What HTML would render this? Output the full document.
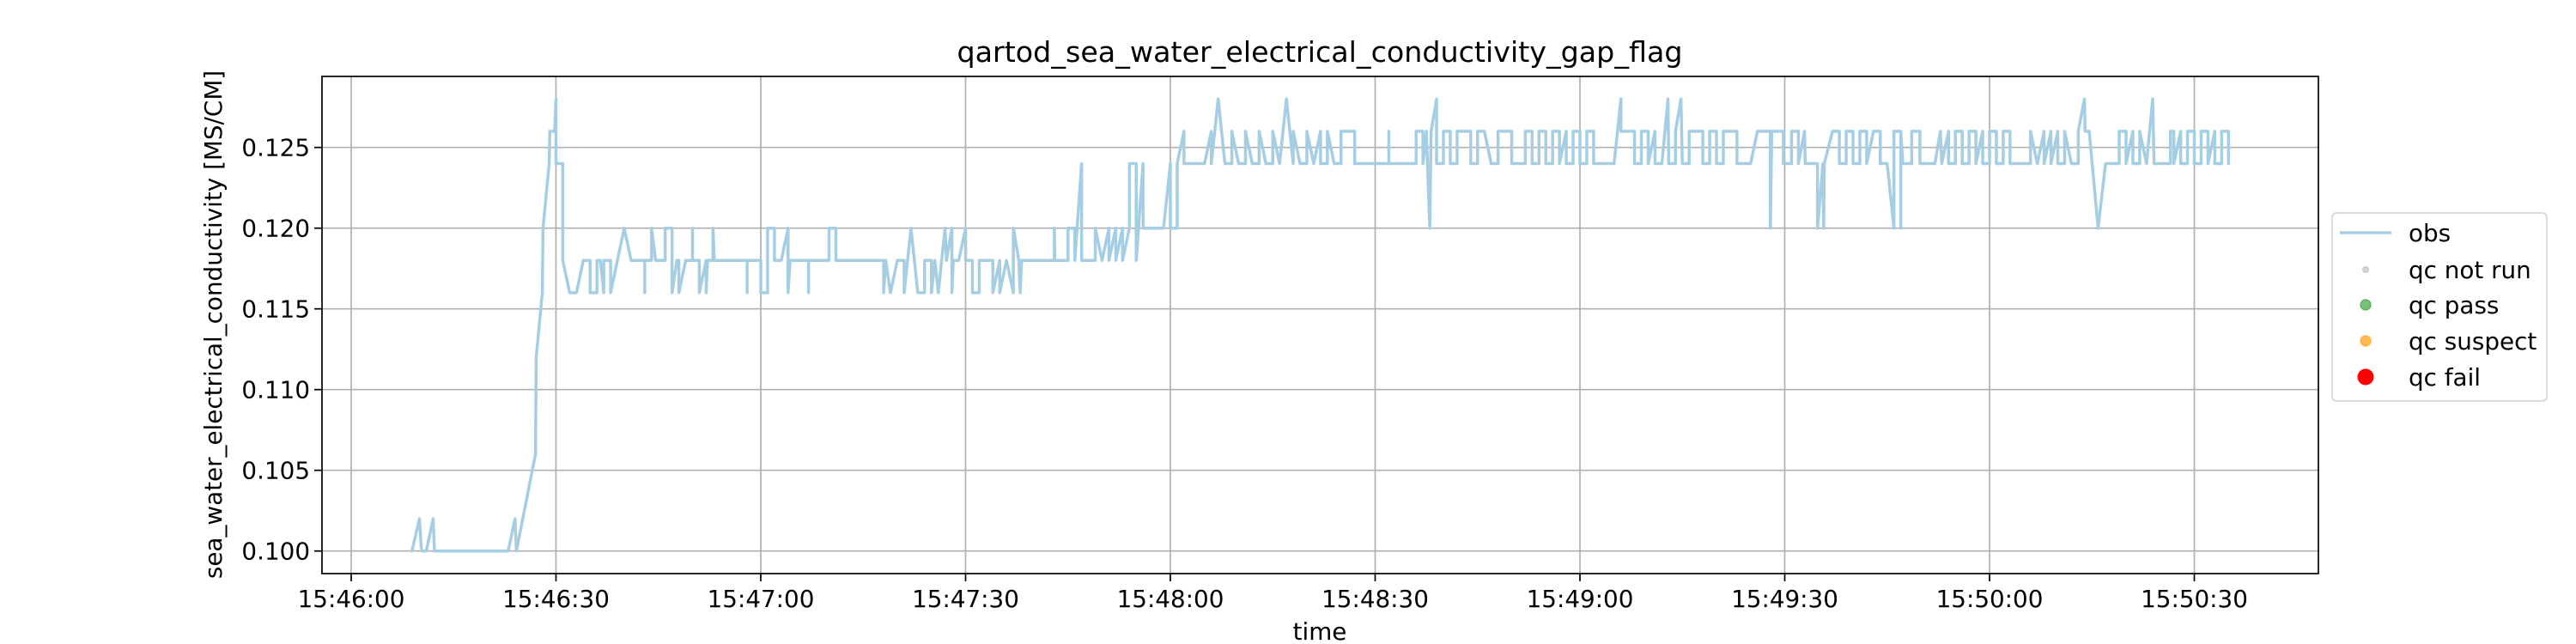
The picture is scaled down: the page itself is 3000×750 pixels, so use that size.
<!DOCTYPE html>
<html><head><meta charset="utf-8"><style>
html,body{margin:0;padding:0;background:#fff;}
svg{display:block;font-family:"DejaVu Sans","Liberation Sans",sans-serif;}
</style></head><body>
<svg id="chart" width="3000" height="750" viewBox="0 0 3000 750" xmlns="http://www.w3.org/2000/svg">
<rect x="0" y="0" width="3000" height="750" fill="#fff"/>
<text x="1537" y="72" font-size="33" text-anchor="middle" textLength="845" lengthAdjust="spacingAndGlyphs">qartod_sea_water_electrical_conductivity_gap_flag</text>
<g id="grid"></g>
<g id="series"></g>
<rect x="375" y="89" width="2325" height="579" fill="none" stroke="#000" stroke-width="1.7"/>
<g id="xaxis"></g>
<g id="yaxis"></g>
<text x="1537" y="745" font-size="27.8" text-anchor="middle">time</text>
<text transform="translate(258,378) rotate(-90)" font-size="27.8" text-anchor="middle">sea_water_electrical_conductivity [MS/CM]</text>
<g>
<rect x="2716" y="248" width="250" height="219" rx="5" fill="#fff" stroke="#d6d6d6" stroke-width="1.7"/>
<g><line x1="2725" y1="271" x2="2785" y2="271" stroke="#a6cee3" stroke-width="3.5"/><text x="2805" y="281" font-size="27.8">obs</text></g>
<g><circle cx="2755" cy="314" r="3.5" fill="#d3d3d3" stroke="#c8c8c8" stroke-width="1"/><text x="2805" y="324" font-size="27.8">qc not run</text></g>
<g><circle cx="2755" cy="355" r="6" fill="#5cb85c" stroke="#3a9a3a" stroke-width="1.2" opacity="0.85"/><text x="2805" y="365" font-size="27.8">qc pass</text></g>
<g><circle cx="2755" cy="397" r="6" fill="#ffb23f" stroke="#ffa726" stroke-width="1.2" opacity="0.9"/><text x="2805" y="407" font-size="27.8">qc suspect</text></g>
<g><circle cx="2755" cy="439" r="9.5" fill="#ff0000"/><text x="2805" y="449" font-size="27.8">qc fail</text></g>
</g>
</svg>
<script>
// seconds after 15:46:00
const xTickSeconds = [0, 30, 60, 90, 120, 150, 180, 210, 240, 270];
const xTickLabels = ["15:46:00","15:46:30","15:47:00","15:47:30","15:48:00","15:48:30","15:49:00","15:49:30","15:50:00","15:50:30"];
const yTickValues = [0.100, 0.105, 0.110, 0.115, 0.120, 0.125];
const yTickLabels = ["0.100","0.105","0.110","0.115","0.120","0.125"];
// [seconds after 15:46:00, value]
const obsStart = [[8.9,.100],[10,.102],[10.3,.100],[11,.100],[12,.102],[12.2,.100],[23,.100],[24,.102],[24.2,.100],[27,.106],[27.1,.112],[28,.116],[28.1,.120],[29,.124],[29.1,.126],[29.8,.126],[30,.128],[30,.124],[31,.124],[31,.118]];
const obsEarly = [[32,.116],[33,.116],[34,.118],[35,.118],[35,.116],[36,.116],[36,.118],[36.5,.118],[37,.116],[37,.118],[38,.118],[38,.116],[40,.120],[41,.118],[43,.118],[43,.116],[43,.118],[44,.118],[44,.120],[44.6,.118],[46,.118],[46,.120],[47,.120],[47,.116],[47.7,.118],[48,.118],[48,.116],[49,.118],[50,.118],[50,.120],[50,.118],[51,.118],[51,.116],[52,.118],[52,.116],[52.2,.118],[53,.118],[53,.120],[53.2,.118],[58,.118],[58,.116],[58,.118],[60,.118],[60,.116],[61,.116],[61,.120],[62,.120],[62,.118],[63,.118],[64,.120],[64,.116],[64.3,.118],[67,.118],[67,.116],[67,.118],[70,.118],[70,.120],[71,.120],[71,.118],[78,.118],[78,.116],[78.3,.118],[79,.116],[80,.118],[81,.118],[81,.116],[81.5,.118],[82,.120],[83,.116],[84,.116],[84,.118],[85,.118],[85,.116],[85.5,.118],[86,.116],[87,.120],[87.2,.118],[88,.120],[88,.116],[88.2,.118],[89,.118],[90,.120],[90,.118],[91,.118],[91,.116]];
const obsMid = [[92,.116],[92,.118],[94,.118],[94,.116],[95,.118],[95,.116],[96,.118],[97,.116],[97,.120],[97.8,.118],[98,.116],[98.2,.118],[103,.118],[103,.120],[103.1,.118],[105,.118],[105,.120],[106,.120],[106,.118],[107,.124],[107,.118],[109,.118],[109,.120],[110,.118],[111,.120],[111,.118],[112,.120],[112,.118],[113,.120],[113,.118],[114,.120],[114,.124],[115,.124],[115,.118],[116,.124],[116,.120],[119,.120],[120,.124],[120,.120],[121,.120],[121,.124],[122,.126],[122,.124],[125,.124],[126,.126],[126,.124],[127,.128],[128,.124],[129,.124],[129,.126],[130,.124],[131,.124],[131,.126],[132,.124],[133,.124],[133,.126],[134,.124],[135,.124],[135,.126],[136,.124],[137,.128],[138,.124],[138,.126],[139,.124],[140,.124],[140,.126],[141,.124],[142,.126],[142,.124],[143,.124],[143,.126],[144,.124],[145,.124],[145,.126],[147,.126],[147,.124],[152,.124],[152,.126],[152,.124]];
const obsLate = [[156,.124],[156,.126],[157,.126],[157,.124],[157.5,.126],[158,.120],[158.2,.126],[159,.128],[159,.124],[160,.124],[160,.126],[161,.126],[161,.124],[162,.124],[162,.126],[164,.126],[164,.124],[165,.124],[165,.126],[166,.126],[167,.124],[168,.124],[168,.126],[170,.126],[170,.124],[172,.124],[172,.126],[173,.126],[173,.124],[174,.124],[174,.126],[175,.126],[175,.124],[176,.124],[176,.126],[177,.126],[177,.124],[178,.126],[178,.124],[179,.124],[179,.126],[180,.126],[180,.124],[181,.124],[181,.126],[182,.126],[182,.124],[185,.124],[186,.128],[186,.126],[188,.126],[188,.124],[189,.124],[189,.126],[190,.126],[190,.124],[191,.126],[191,.124],[192,.124],[192.9,.128],[193,.124],[194,.124],[194,.126],[194.8,.128],[195,.124],[196,.124],[196,.126],[198,.126],[198,.124],[199,.124],[199,.126],[200,.126],[200,.124],[201,.124],[201,.126],[203,.126],[203,.124],[205,.124],[206,.126],[207.9,.126],[207.9,.120],[208.1,.126],[209.8,.126],[209.8,.124],[211,.124],[211,.126],[212,.126],[212,.124],[212.9,.126],[213,.124]];
const obsEnd = [[214.8,.124],[214.8,.120],[215.6,.124],[215.7,.120],[215.8,.124],[217,.126],[218,.126],[218,.124],[219,.124],[219,.126],[220,.126],[220,.124],[221,.124],[221,.126],[222,.126],[222,.124],[223,.126],[224,.126],[224,.124],[225,.124],[226,.120],[226,.126],[227,.126],[227,.120],[227,.126],[227.3,.124],[228.6,.124],[228.6,.126],[229.8,.126],[229.8,.124],[232,.124],[232.8,.126],[233,.124],[234,.126],[234,.124],[235,.124],[235,.126],[236,.126],[236,.124],[237,.124],[237,.126],[238,.126],[238,.124],[239,.126],[239,.124],[240,.124],[240,.126],[241,.126],[241,.124],[242,.124],[242,.126],[243,.126],[243,.124],[246,.124],[246,.126],[247,.124],[248,.126],[248,.124],[249,.126],[249,.124],[250,.126],[250,.124],[251,.124],[251,.126],[252,.124],[253,.124],[253,.126],[253.9,.128],[254,.126],[254.6,.126],[255.9,.120],[257,.124],[259,.124],[259,.126],[260,.126],[260,.124],[261,.126],[261,.124],[262,.124],[262,.126],[263,.124],[263.9,.128],[264.1,.124],[266.5,.124],[266.5,.126],[267,.126],[267,.124],[268,.126],[268,.124],[269,.124],[269,.126],[270,.126],[270,.124],[271,.124],[271,.126],[272,.126],[272,.124],[273,.126],[273,.124],[274,.124],[274,.126],[275,.126],[275,.124]];

const NS = "http://www.w3.org/2000/svg";
const PL = 375, PR = 2700, PT = 89, PB = 668;
function xScale(t){ return 409 + t * (238.5 / 30); }
function yScale(v){ return 641.7 - (v - 0.100) * 18800; }
function mk(tag, attrs, parent){
  const el = document.createElementNS(NS, tag);
  for (const k in attrs) el.setAttribute(k, attrs[k]);
  parent.appendChild(el);
  return el;
}
const grid = document.getElementById('grid');
const xaxis = document.getElementById('xaxis');
const yaxis = document.getElementById('yaxis');
xTickSeconds.forEach((s, i) => {
  const x = xScale(s);
  const gl = mk('line', {x1:x, y1:PT, x2:x, y2:PB, stroke:'#b0b0b0', 'stroke-width':1.7}, grid);
  
  
  const tk = mk('line', {x1:x, y1:PB, x2:x, y2:PB + 9, stroke:'#000', 'stroke-width':1.7}, xaxis);
  
  
  const tx = mk('text', {x:x, y:PB + 39, 'font-size':27.8, 'text-anchor':'middle'}, xaxis);
  tx.textContent = xTickLabels[i];
  
  
});
yTickValues.forEach((v, i) => {
  const y = yScale(v);
  const gl = mk('line', {x1:PL, y1:y, x2:PR, y2:y, stroke:'#b0b0b0', 'stroke-width':1.7}, grid);
  
  
  const tk = mk('line', {x1:PL - 9, y1:y, x2:PL, y2:y, stroke:'#000', 'stroke-width':1.7}, yaxis);
  
  
  const tx = mk('text', {x:PL - 14, y:y + 10, 'font-size':27.8, 'text-anchor':'end'}, yaxis);
  tx.textContent = yTickLabels[i];
  
  
});
const series = document.getElementById('series');
const obsPoints = obsStart.concat(obsEarly, obsMid, obsLate, obsEnd);
let d = '';
obsPoints.forEach((p, i) => {
  d += (i ? 'L' : 'M') + xScale(p[0]).toFixed(2) + ',' + yScale(p[1]).toFixed(2);
});
const path = mk('path', {d:d, fill:'none', stroke:'#a6cee3', 'stroke-width':3.5, 'stroke-linejoin':'round', 'stroke-linecap':'round'}, series);


</script>
</body></html>
